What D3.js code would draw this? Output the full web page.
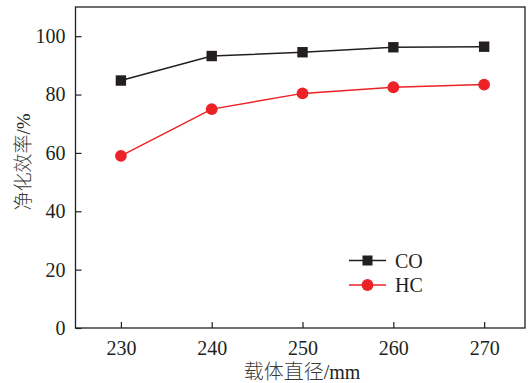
<!DOCTYPE html>
<html>
<head>
<meta charset="utf-8">
<script src="https://cdn.jsdelivr.net/npm/d3@7"></script>
<style>
  body { margin: 0; background: #fff; }
  text { font-family: "Liberation Serif", "Noto Sans CJK SC", serif; fill: #231f20; }
  .cjk { font-family: "Noto Sans CJK SC", sans-serif; font-weight: 300; fill: #3a3a3a; }
</style>
</head>
<body>
<script>
// data
var diameters = [230, 240, 250, 260, 270];
var coValues = [84.8, 93.2, 94.5, 96.2, 96.4];
var hcValues = [59.0, 75.0, 80.4, 82.5, 83.4];
var xTicks = [230, 240, 250, 260, 270];
var yTicks = [0, 20, 40, 60, 80, 100];
var seriesNames = ["CO", "HC"];

var width = 531, height = 383;
var plot = {left: 75.5, right: 525, top: 7, bottom: 328};

var svg = d3.select("body").append("svg")
    .attr("width", width)
    .attr("height", height);

// scales
var x = d3.scaleLinear().domain([225, 274.5]).range([plot.left, plot.right]);
var y = d3.scaleLinear().domain([0, 110]).range([plot.bottom, plot.top]);

// frame
svg.append("rect")
    .attr("x", plot.left).attr("y", plot.top)
    .attr("width", plot.right - plot.left).attr("height", plot.bottom - plot.top)
    .attr("fill", "none").attr("stroke", "#231f20").attr("stroke-width", 1.3);

// x axis, ticks pointing inward
var xAxis = svg.append("g")
    .attr("transform", "translate(0," + plot.bottom + ")")
    .call(d3.axisBottom(x).tickValues(xTicks).tickSize(-6).tickPadding(13));
xAxis.select(".domain").remove();
xAxis.selectAll("line").attr("stroke", "#231f20").attr("stroke-width", 1.2);
xAxis.selectAll("text").attr("font-size", 20).attr("fill", "#231f20")
    .attr("font-family", "Liberation Serif");

// y axis
var yAxis = svg.append("g")
    .attr("transform", "translate(" + plot.left + ",0)")
    .call(d3.axisLeft(y).tickValues(yTicks).tickSize(-6).tickPadding(10));
yAxis.select(".domain").remove();
yAxis.selectAll("line").attr("stroke", "#231f20").attr("stroke-width", 1.2);
yAxis.selectAll("text").attr("font-size", 20).attr("fill", "#231f20")
    .attr("font-family", "Liberation Serif");

// axis titles (Chinese part lighter, like the printed figure)
var xTitle = svg.append("text")
    .attr("x", 302).attr("y", 378.5)
    .attr("text-anchor", "middle")
    .attr("font-size", 20);
xTitle.append("tspan").attr("class", "cjk").text("载体直径");
xTitle.append("tspan").text("/mm");

var yTitle = svg.append("text")
    .attr("transform", "translate(30,162) rotate(-90)")
    .attr("text-anchor", "middle")
    .attr("font-size", 19);
yTitle.append("tspan").attr("class", "cjk").text("净化效率");
yTitle.append("tspan").text("/%");

var line = d3.line()
    .x(function(d, i) { return x(diameters[i]); })
    .y(function(d) { return y(d); });

var black = "#231f20", red = "#ec2227";

// CO series
svg.append("path").datum(coValues)
    .attr("d", line).attr("fill", "none")
    .attr("stroke", black).attr("stroke-width", 1.5);
svg.selectAll(".co").data(coValues).enter().append("rect")
    .attr("class", "co")
    .attr("x", function(d, i) { return x(diameters[i]) - 5.2; })
    .attr("y", function(d) { return y(d) - 5.2; })
    .attr("width", 10.4).attr("height", 10.4)
    .attr("fill", black);

// HC series
svg.append("path").datum(hcValues)
    .attr("d", line).attr("fill", "none")
    .attr("stroke", red).attr("stroke-width", 1.5);
svg.selectAll(".hc").data(hcValues).enter().append("circle")
    .attr("class", "hc")
    .attr("cx", function(d, i) { return x(diameters[i]); })
    .attr("cy", function(d) { return y(d); })
    .attr("r", 5.9)
    .attr("fill", red);

// legend
var legend = svg.selectAll(".legend").data(seriesNames).enter().append("g")
    .attr("class", "legend")
    .attr("transform", function(d, i) { return "translate(349," + (260.5 + i * 24.5) + ")"; });

legend.append("line")
    .attr("x1", 0).attr("x2", 37).attr("y1", 0).attr("y2", 0)
    .attr("stroke", function(d, i) { return i === 0 ? black : red; })
    .attr("stroke-width", 1.5);
legend.each(function(d, i) {
    var g = d3.select(this);
    if (i === 0) {
        g.append("rect").attr("x", 13.5).attr("y", -5).attr("width", 10).attr("height", 10).attr("fill", black);
    } else {
        g.append("circle").attr("cx", 18.5).attr("cy", 0).attr("r", 5.9).attr("fill", red);
    }
});
legend.append("text")
    .attr("x", 46).attr("y", 7)
    .attr("font-size", 20)
    .text(function(d) { return d; });
</script>
</body>
</html>
